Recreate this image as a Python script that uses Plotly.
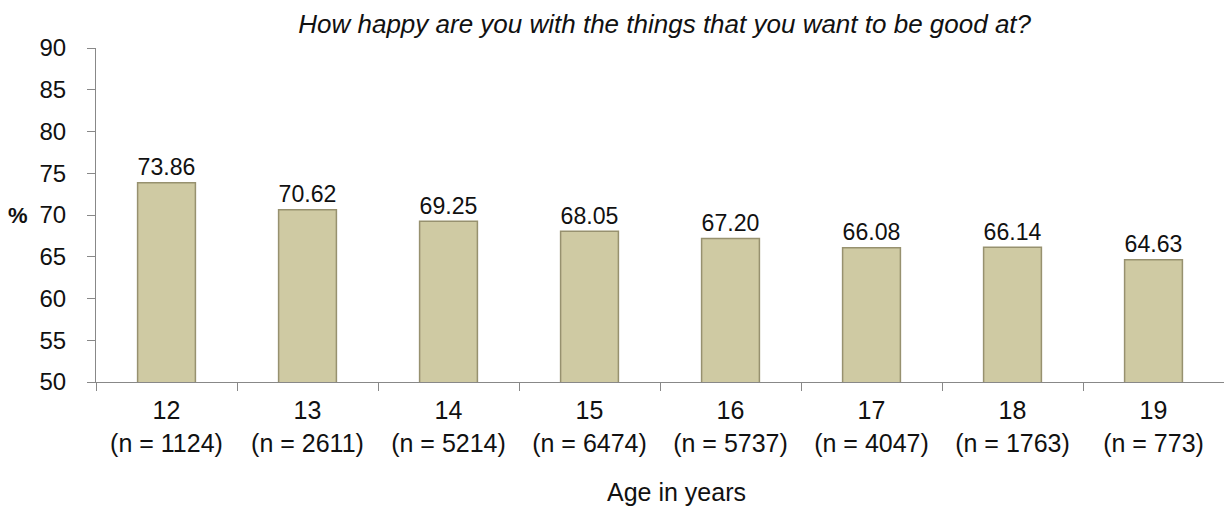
import plotly.graph_objects as go

ages = ["12", "13", "14", "15", "16", "17", "18", "19"]
counts = [1124, 2611, 5214, 6474, 5737, 4047, 1763, 773]
values = [73.86, 70.62, 69.25, 68.05, 67.20, 66.08, 66.14, 64.63]
y_ticks = [50, 55, 60, 65, 70, 75, 80, 85, 90]

cats = [f"{a}<br>(n = {n})" for a, n in zip(ages, counts)]

FONT = "Liberation Sans, Arial"

fig = go.Figure()
fig.add_trace(go.Bar(
    x=cats, y=values,
    marker=dict(color="#CFCAA3", line=dict(color="#97916F", width=1.5)),
    text=[f"{v:.2f}" for v in values],
    textposition="outside",
    textfont=dict(family=FONT, size=25, color="#111111"),
    cliponaxis=False,
    width=0.41,
))

fig.update_layout(
    width=1216, height=500,
    margin=dict(l=88, r=0, t=40, b=126),
    paper_bgcolor="white", plot_bgcolor="white",
    font=dict(family=FONT, size=25, color="#111111"),
    showlegend=False,
    title=dict(text="<i>How happy are you with the things that you want to be good at?</i>",
               x=0.54, xanchor="center", y=0.968, yanchor="middle",
               font=dict(size=26, color="#111111")),
    bargap=0.59,
)
fig.update_xaxes(
    type="category", showline=True, linecolor="#888888", linewidth=1,
    ticks="outside", tickson="boundaries", ticklen=8, tickcolor="#888888",
    tickfont=dict(size=25), showgrid=False, ticklabelstandoff=6,
)
fig.update_yaxes(
    range=[50, 90], tickvals=y_ticks, showline=True, linecolor="#888888", linewidth=1,
    ticks="outside", ticklen=8, tickcolor="#888888", showgrid=False,
    tickfont=dict(size=24), zeroline=False, ticklabelstandoff=16,
)
fig.add_annotation(text="<b>%</b>", xref="paper", yref="y", x=-0.069, y=70,
                   showarrow=False, font=dict(size=22, color="#111111"),
                   xanchor="center", yanchor="middle")
fig.add_annotation(text="Age in years", xref="paper", yref="paper", x=0.515, y=-0.329,
                   showarrow=False, font=dict(size=25, color="#111111"),
                   xanchor="center", yanchor="middle")

fig.write_html("out.html")
